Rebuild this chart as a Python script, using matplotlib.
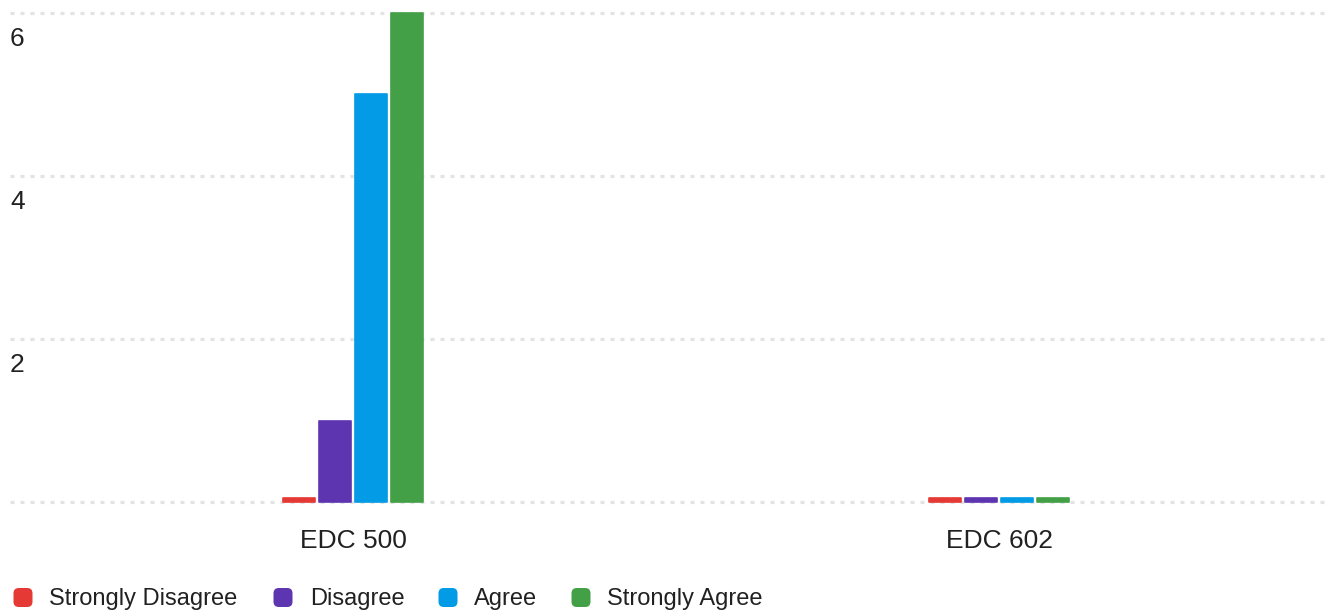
import numpy as np
import matplotlib
matplotlib.use('Agg')
import matplotlib.pyplot as plt
from matplotlib.patches import FancyBboxPatch

plt.rcParams['font.family'] = ['Liberation Sans', 'DejaVu Sans']
plt.rcParams['lines.scale_dashes'] = False

courses = ['EDC 500', 'EDC 602']
responses = ['Strongly Disagree', 'Disagree', 'Agree', 'Strongly Agree']
counts = {
    'Strongly Disagree': [0, 0],
    'Disagree': [1, 0],
    'Agree': [5, 0],
    'Strongly Agree': [6, 0],
}
colors = ['#E53935', '#5E35B1', '#039BE5', '#43A047']
yticks = [2, 4, 6]

W, H = 1327, 614
fig = plt.figure(figsize=(W / 100, H / 100), dpi=100)

# axes box in pixels: left 10, right 1327, bottom 505, top 8
ax = fig.add_axes([10 / W, (H - 505) / H, (W - 10) / W, (505 - 8) / H])
unit = 81.5  # px per count
ax.set_ylim(-3 / unit, 6 + 5 / unit)
ax.set_xlim((10 - 353) / 646, (1327 - 353) / 646)
ax.axis('off')

for v in [0] + yticks:
    ax.axhline(v, color='#e3e3e3', lw=2.3, ls=(0, (2.9, 4.3)), zorder=0)

for v in yticks:
    ax.annotate(str(v), xy=(0, v), xycoords=('axes fraction', 'data'),
                xytext=(0, -19), textcoords='offset points',
                ha='left', va='center', fontsize=19, color='#212121')

bw = 32 / 646
step = 36 / 646
x = np.arange(len(courses))
for i, (r, c) in enumerate(zip(responses, colors)):
    vals = np.array(counts[r], dtype=float)
    h = np.maximum(vals, 0.05)
    ax.bar(x + (i - 1.5) * step, h, width=bw, color=c, edgecolor=c,
           lw=1.2, joinstyle='round', zorder=2)

for xi, name in zip(x, courses):
    ax.annotate(name, xy=(xi, 0), xytext=(0, -28), textcoords='offset points',
                ha='center', va='center', fontsize=19, color='#212121')

# legend
marker_x = [13.5, 273.5, 438.5, 571.5]
text_x = [49, 310, 474, 607]
ly = 597
for r, c, mx, tx in zip(responses, colors, marker_x, text_x):
    fig.add_artist(FancyBboxPatch((mx / W, (H - ly - 10) / H), 19 / W, 19 / H,
                                  boxstyle='round,pad=0,rounding_size=0.004',
                                  transform=fig.transFigure, color=c, lw=0,
                                  mutation_aspect=W / H))
    fig.text(tx / W, (H - ly - 1.5) / H, r, ha='left', va='center',
             fontsize=17, color='#212121')

fig.savefig('out.png', dpi=100)
